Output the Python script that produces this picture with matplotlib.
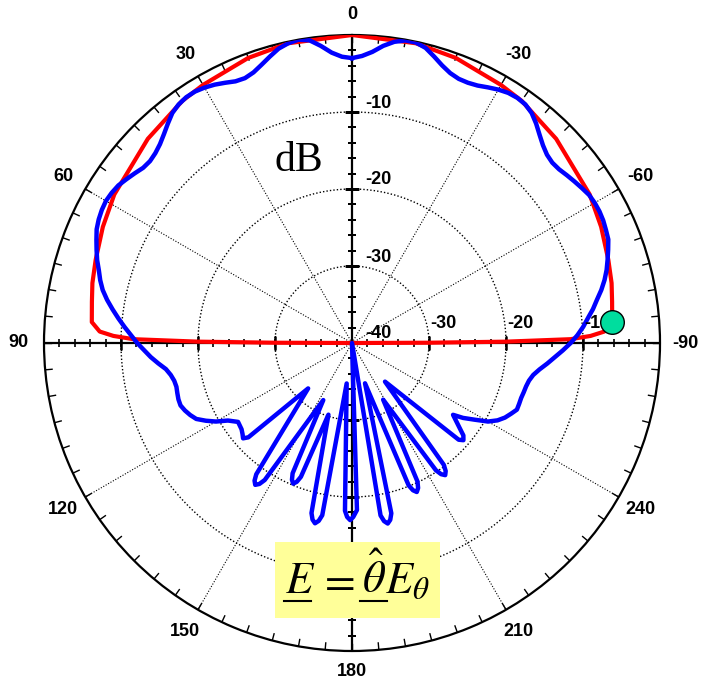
import numpy as np
import matplotlib
matplotlib.use("Agg")
import matplotlib.pyplot as plt

plt.rcParams["font.family"] = ["Liberation Sans", "DejaVu Sans"]
plt.rcParams["mathtext.fontset"] = "stix"

# angles in degrees, counter-clockwise from the top (0), values in dB
red_theta = [-90, -89.8, -89.5, -89.0, -88.3, -87.4, -85.4, -81, -77, -72, -65,
             -58, -45, -35, -30, -20, -12, 0, 12, 20, 30, 35, 45, 58, 65, 72,
             77, 81, 85.4, 87.4, 88.3, 89.0, 89.5, 89.8, 90]
red_db = [-40, -30, -20, -11.6, -9.0, -7.2, -6.1, -5.8, -5.4, -5.0, -4.3,
          -3.6, -2.5, -1.6, -1.3, -0.6, -0.2, 0.0, -0.2, -0.6, -1.3, -1.6, -2.5,
          -3.6, -4.3, -5.0, -5.4, -5.8, -6.1, -7.2, -9.0, -11.6, -20, -30, -40]

# upper-left side of the blue pattern, 0..124 deg
blue_left_theta = [0, 2, 4, 6, 8, 10, 12, 14, 16, 18, 20, 22, 24, 26, 28, 30,
                   32, 34, 36, 38, 40, 42, 44, 46, 48, 50, 52, 54, 56, 58, 60,
                   62, 64, 66, 68, 70, 72, 74, 76, 78, 80, 82, 84, 86, 88, 90,
                   92, 94, 96, 98, 100, 102, 104, 106, 108, 110, 112, 114, 116,
                   118, 120, 122, 124.7]
blue_left_db = [-3.0, -2.8, -2.2, -1.2, -0.3, 0.0, -0.2, -0.6, -1.3, -2.0,
                -2.6, -2.9, -2.8, -2.4, -2.0, -1.7, -1.5, -1.5, -1.7, -2.1,
                -2.8, -3.5, -4.1, -4.5, -4.7, -4.6, -4.2, -3.8, -3.4, -3.2,
                -3.1, -3.2, -3.4, -3.7, -4.2, -4.7, -5.2, -5.8, -6.3, -6.9,
                -7.7, -8.6, -9.5, -10.4, -11.3, -12.1, -13.0, -13.8, -14.7,
                -15.6, -16.1, -16.4, -16.5, -16.4, -16.3, -16.3, -16.6, -17.0,
                -17.5, -18.5, -19.6, -21.0, -22.0]

# lower lobes, 128..235 deg
blue_lobe_theta = [128, 129.8, 131.2, 132.3, 136.0,
                   143.9, 144.7, 145.7, 146.7, 147.5, 153.3,
                   155.5, 156.3, 157.3, 158.3, 159.1, 161.8,
                   166.6, 167.4, 168.4, 169.4, 170.2, 172.5,
                   177.6, 178.4, 179.4, 180.4, 181.7, 184,
                   189.4, 190.2, 191.2, 192.2, 193.0, 197.9,
                   201.7, 202.5, 203.5, 204.5, 205.3, 208.8,
                   213.4, 214.2, 215.2, 216.2, 217.0, 220.5,
                   227.8, 228.9, 230.3, 234.6]
blue_lobe_db = [-21.8, -21.5, -21.2, -21.8, -31.8,
                -18.9, -18.1, -17.7, -18.1, -18.9, -31.7,
                -21.4, -20.6, -20.2, -20.6, -21.4, -30.2,
                -17.3, -16.5, -16.1, -16.5, -17.3, -34.7,
                -18.2, -17.4, -17.0, -17.4, -18.3, -40,
                -17.3, -16.5, -16.1, -16.5, -17.3, -34.5,
                -20.1, -19.3, -18.9, -19.3, -20.1, -31.6,
                -20.2, -19.4, -19.0, -19.4, -20.2, -33.4,
                -21.3, -20.8, -21.2, -23.9]

# upper-right side of the blue pattern, given as clockwise angle from top
blue_right_cw = [124, 122, 120, 118, 116, 114, 112, 110, 108, 106, 104, 102,
                 100, 98, 96, 94, 92, 90, 88, 86, 84, 82, 80, 78, 76, 74, 72,
                 70, 68, 66, 64, 62, 60, 58, 56, 54, 52, 50, 48, 46, 44, 42,
                 40, 38, 36, 34, 32, 30, 28, 26, 24, 22, 20, 18, 16, 14, 12,
                 10, 8, 6, 4, 2, 0]
blue_right_db = [-22.6, -21.2, -19.6, -18.6, -17.9, -17.4, -16.9, -16.9, -16.9,
                 -16.8, -16.7, -16.5, -16.1, -15.4, -14.5, -13.6, -12.6, -11.6,
                 -10.7, -9.9, -9.2, -8.4, -7.7, -6.9, -6.2, -5.6, -5.1, -4.6,
                 -4.1, -3.9, -3.7, -3.6, -3.6, -3.7, -4.0, -4.3, -4.6, -4.9,
                 -5.0, -4.8, -4.3, -3.6, -2.8, -2.1, -1.7, -1.6, -1.7, -2.0,
                 -2.4, -2.8, -3.0, -3.0, -2.7, -2.1, -1.3, -0.5, -0.1, -0.1,
                 -0.5, -1.2, -2.1, -2.7, -3.0]

marker_theta = -85.4
marker_db = -6.1

angle_ticks = [0, 30, 60, 90, 120, 150, 180, 210, 240, 270, 300, 330]
angle_labels = ["0", "30", "60", "90", "120", "150", "180", "210", "240",
                "-90", "-60", "-30"]
ring_values = [-30, -20, -10]

W, H = 701, 681
fig = plt.figure(figsize=(W / 100, H / 100), dpi=100)
cx, cy, R = 352, 343, 308
ax = fig.add_axes([(cx - R) / W, (H - cy - R) / H, 2 * R / W, 2 * R / H],
                  projection="polar")
ax.set_theta_zero_location("N")
ax.set_theta_direction(1)
ax.set_ylim(-40, 0)
ax.set_xticks([])
ax.set_yticks([])
ax.grid(False)
ax.spines["polar"].set_linewidth(1.6)
ax.spines["polar"].set_color("black")

# dotted rings and spokes
full = np.linspace(0, 2 * np.pi, 361)
for rv in ring_values:
    ax.plot(full, np.full_like(full, rv), color="black", lw=1.0,
            ls=(0, (1, 1.5)), zorder=1)
for a in angle_ticks:
    if a % 90 == 0:
        continue
    ax.plot([np.deg2rad(a)] * 2, [-40, 0], color="black", lw=0.8,
            ls=(0, (1, 1.5)), zorder=1)
# solid main axes
for a in (0, 90, 180, 270):
    ax.plot([np.deg2rad(a)] * 2, [-40, 0], color="black", lw=1.6, zorder=2)

# ticks along the main axes (longer ones at the rings)
minor_r = np.arange(-38, 0, 2)
for a, mk in [(0, "_"), (180, "_"), (90, "|"), (270, "|")]:
    ax.plot(np.full(len(minor_r), np.deg2rad(a)), minor_r, ls="none",
            marker=mk, ms=6, mew=1.2, color="black", zorder=2)
    ax.plot(np.full(len(ring_values), np.deg2rad(a)), ring_values, ls="none",
            marker=mk, ms=10, mew=1.8, color="black", zorder=2)

# ticks on the outer circle every 5 degrees
for a in range(0, 360, 5):
    ax.plot([np.deg2rad(a)] * 2, [-0.9, 0], color="black", lw=1.0, zorder=2)

# pattern curves
blue_theta = blue_left_theta + blue_lobe_theta + [360 - a for a in blue_right_cw]
blue_db = blue_left_db + blue_lobe_db + blue_right_db
ax.plot(np.deg2rad(red_theta), red_db, color="#ff0000", lw=3.0, zorder=4,
        solid_joinstyle="round")
ax.plot(np.deg2rad(blue_theta), blue_db, color="#0000ff", lw=3.2, zorder=5,
        solid_joinstyle="round")
ax.plot(np.deg2rad(marker_theta), marker_db, "o", ms=17, mfc="#00dd9e",
        mec="black", mew=1.0, zorder=7, clip_on=False)

# angle labels
for a, lab in zip(angle_ticks, angle_labels):
    rr = 2.6 if a in (0, 180) else 3.3
    ax.text(np.deg2rad(a), rr, lab, ha="center", va="center", fontsize=13,
            fontweight="bold", clip_on=False)

# radial labels
for rv in [-10, -20, -30, -40]:
    ax.annotate(str(rv), xy=(0, rv), xytext=(26, 9), textcoords="offset pixels",
                ha="center", va="center", fontsize=13, fontweight="bold",
                zorder=6)
for rv in [-30, -20, -10]:
    ax.annotate(str(rv), xy=(np.deg2rad(270), rv), xytext=(14, 20),
                textcoords="offset pixels", ha="center", va="center",
                fontsize=13, fontweight="bold", zorder=6)

fig.text(299 / W, 1 - 161 / H, "dB", family="Liberation Serif", fontsize=30,
         ha="center", va="center")

# formula box (mathtext has no \underline, so the bars are drawn as lines)
box = plt.Rectangle((275 / W, 1 - 618 / H), 165 / W, 76 / H,
                    transform=fig.transFigure, facecolor="#ffff99",
                    edgecolor="none", zorder=8)
fig.add_artist(box)
base = 1 - 593 / H
fig.text(285 / W, base, r"$E$", fontsize=32, ha="left", va="baseline", zorder=9)
fig.text(336 / W, base, r"$=$", fontsize=32, ha="center", va="baseline", zorder=9)
fig.text(374 / W, base, r"$\hat{\theta}$", fontsize=32, ha="center",
         va="baseline", zorder=9)
fig.text(385 / W, base, r"$E_{\theta}$", fontsize=32, ha="left",
         va="baseline", zorder=9)
for x0, x1 in [(284, 311), (360, 387)]:
    fig.add_artist(plt.Line2D([x0 / W, x1 / W], [1 - 601 / H] * 2, color="black",
                              lw=1.5, transform=fig.transFigure, zorder=9))

fig.savefig("out.png", dpi=100)
